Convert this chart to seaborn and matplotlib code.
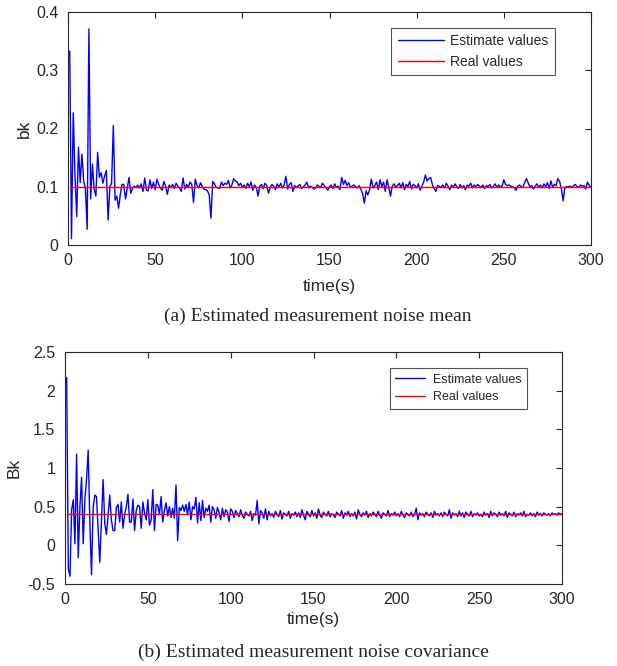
import numpy as np
import pandas as pd
import matplotlib
matplotlib.use("Agg")
import matplotlib.pyplot as plt
import seaborn as sns

# ---- data ----
bk_est = [0.333, 0.011, 0.227, 0.120, 0.049, 0.168, 0.107, 0.156, 0.110, 0.096,
          0.027, 0.371, 0.079, 0.139, 0.096, 0.084, 0.159, 0.116, 0.124, 0.106,
          0.118, 0.128, 0.043, 0.100, 0.106, 0.205, 0.077, 0.084, 0.063, 0.087,
          0.104, 0.104, 0.079, 0.098, 0.116,
          0.089, 0.097, 0.101, 0.099, 0.103, 0.098, 0.105, 0.092, 0.115, 0.094,
          0.093, 0.112, 0.097, 0.108, 0.095, 0.113, 0.104, 0.098, 0.094, 0.109,
          0.101, 0.087, 0.103, 0.099, 0.104, 0.097, 0.106, 0.101, 0.098, 0.092,
          0.115, 0.096, 0.104, 0.099, 0.108,
          0.104, 0.073, 0.113, 0.102, 0.098, 0.107, 0.100, 0.096, 0.095, 0.093,
          0.086, 0.046, 0.109, 0.105, 0.099, 0.098, 0.097, 0.108, 0.102, 0.106,
          0.104, 0.111, 0.098, 0.103, 0.114, 0.110, 0.108, 0.102, 0.106, 0.099,
          0.103, 0.097, 0.106, 0.100, 0.108, 0.094, 0.103, 0.099, 0.084, 0.101,
          0.104, 0.097, 0.106, 0.102, 0.089, 0.099, 0.104, 0.101, 0.095, 0.105,
          0.099, 0.106, 0.098, 0.103, 0.118, 0.096, 0.104, 0.107, 0.092, 0.102,
          0.099, 0.101, 0.104, 0.097, 0.100, 0.103, 0.108, 0.098, 0.101, 0.099,
          0.096, 0.098, 0.103, 0.101, 0.099, 0.106, 0.102, 0.098, 0.094, 0.100,
          0.103, 0.097, 0.105, 0.099, 0.101, 0.095, 0.116, 0.104, 0.111, 0.102,
          0.107, 0.099, 0.101, 0.103, 0.100, 0.098, 0.102, 0.096, 0.088, 0.072,
          0.093, 0.086, 0.095, 0.113, 0.098, 0.102, 0.108, 0.095, 0.112, 0.100,
          0.108, 0.092, 0.112, 0.099, 0.084, 0.101, 0.105, 0.099, 0.102, 0.106,
          0.098, 0.107, 0.095, 0.104, 0.100, 0.109, 0.096, 0.104, 0.102, 0.098,
          0.105, 0.094, 0.101, 0.108, 0.120, 0.110, 0.114, 0.116, 0.104, 0.097,
          0.092, 0.102, 0.101, 0.099, 0.103, 0.098, 0.106, 0.101, 0.095, 0.103,
          0.099, 0.105, 0.100, 0.097, 0.104, 0.098, 0.102, 0.095, 0.103, 0.101,
          0.106, 0.098, 0.103, 0.100, 0.104, 0.101, 0.099, 0.103, 0.097, 0.102,
          0.100, 0.104, 0.098, 0.101, 0.105, 0.099, 0.103, 0.100, 0.101, 0.112,
          0.104, 0.102, 0.103, 0.101, 0.100, 0.098, 0.094, 0.101, 0.103, 0.100,
          0.099, 0.108, 0.114, 0.106, 0.100, 0.102, 0.096, 0.101, 0.105, 0.099,
          0.103, 0.098, 0.105, 0.100, 0.107, 0.097, 0.110, 0.099, 0.104, 0.102,
          0.114, 0.109, 0.097, 0.076, 0.099, 0.100, 0.100, 0.101, 0.099, 0.102,
          0.104, 0.100, 0.099, 0.103, 0.101, 0.102, 0.096, 0.108, 0.102, 0.099]
bk_real = 0.1

Bk_est = [2.17, -0.30, -0.40, 0.46, 0.59, 0.02, 1.18, -0.16, 0.50, 0.88,
          0.02, 0.60, 0.85, 1.23, 0.30, -0.38, 0.49, 0.65, 0.63, 0.20,
          -0.22, 0.33, 0.85, 0.28, 0.14, 0.38, 0.65, 0.33, 0.19, 0.19,
          0.49, 0.53, 0.30, 0.56, 0.22, 0.40, 0.50, 0.66, 0.30, 0.30,
          0.60, 0.19, 0.45, 0.52, 0.50, 0.22, 0.56, 0.42, 0.33, 0.59,
          0.26, 0.33, 0.72, 0.19, 0.53, 0.52, 0.40, 0.63, 0.30, 0.45,
          0.55, 0.38, 0.50, 0.36, 0.48, 0.35,
          0.78, 0.06, 0.49, 0.45, 0.52, 0.44, 0.53, 0.40, 0.56, 0.33,
          0.50, 0.47, 0.62, 0.29, 0.55, 0.32, 0.58, 0.36, 0.48, 0.44,
          0.52, 0.30, 0.50, 0.46, 0.35, 0.49, 0.42, 0.33, 0.48, 0.37,
          0.46, 0.43, 0.31, 0.47,
          0.44, 0.36, 0.45, 0.41, 0.37, 0.46, 0.39, 0.35, 0.43, 0.40,
          0.38, 0.44, 0.32, 0.41, 0.39, 0.58, 0.28, 0.45, 0.42, 0.35,
          0.47, 0.33, 0.44, 0.38, 0.41, 0.36, 0.44, 0.40, 0.37, 0.45,
          0.34, 0.42, 0.40, 0.38, 0.44, 0.35, 0.41, 0.39, 0.43, 0.37,
          0.42, 0.36, 0.46, 0.39, 0.33, 0.44, 0.40, 0.37, 0.45, 0.38,
          0.42, 0.35, 0.47, 0.39, 0.36, 0.43, 0.40, 0.38, 0.44, 0.37,
          0.41, 0.39, 0.36, 0.43, 0.40, 0.38, 0.45, 0.35, 0.42, 0.39,
          0.44, 0.37, 0.41, 0.38, 0.43, 0.34, 0.46, 0.40, 0.37, 0.42,
          0.39, 0.44, 0.36, 0.41, 0.38, 0.43, 0.40, 0.37, 0.44, 0.39,
          0.35, 0.42, 0.40, 0.38, 0.45, 0.37, 0.41, 0.39, 0.43, 0.38,
          0.41, 0.37, 0.44, 0.39, 0.36, 0.42, 0.40, 0.38, 0.43, 0.37,
          0.40, 0.48, 0.33, 0.42, 0.39, 0.41, 0.37, 0.43, 0.40, 0.38,
          0.42, 0.36, 0.44, 0.39, 0.41, 0.38, 0.42, 0.37, 0.43, 0.40,
          0.38, 0.46, 0.35, 0.42, 0.39, 0.41, 0.37, 0.44, 0.38, 0.42,
          0.36, 0.43, 0.40, 0.38, 0.44, 0.37, 0.41, 0.39, 0.42, 0.38,
          0.40, 0.37, 0.43, 0.39, 0.41, 0.36, 0.44, 0.38, 0.42, 0.40,
          0.37, 0.43, 0.39, 0.41, 0.38, 0.44, 0.36, 0.42, 0.40, 0.38,
          0.43, 0.37, 0.41, 0.39, 0.42, 0.38, 0.44, 0.37, 0.40, 0.39,
          0.42, 0.38, 0.41, 0.37, 0.43, 0.39, 0.41, 0.38, 0.42, 0.40,
          0.39, 0.41, 0.38, 0.42, 0.40, 0.41, 0.39, 0.42, 0.40, 0.41]
Bk_real = 0.4

x_ticks = [0, 50, 100, 150, 200, 250, 300]
y_ticks_top = [0, 0.1, 0.2, 0.3, 0.4]
y_ticklabels_top = ["0", "0.1", "0.2", "0.3", "0.4"]
y_ticks_bot = [-0.5, 0, 0.5, 1, 1.5, 2, 2.5]
y_ticklabels_bot = ["-0.5", "0", "0.5", "1", "1.5", "2", "2.5"]
legend_labels = ["Estimate values", "Real values"]
captions = ["(a) Estimated measurement noise mean",
            "(b) Estimated measurement noise covariance"]

sns.set_style("white")
plt.rcParams["font.family"] = ["Liberation Sans", "DejaVu Sans"]

W, H = 617, 666
fig = plt.figure(figsize=(W / 100, H / 100), dpi=100)

def frac(l, t, r, b):
    return [l / W, 1 - b / H, (r - l) / W, (b - t) / H]

ax1 = fig.add_axes(frac(68, 12, 591, 245))
ax2 = fig.add_axes(frac(65, 352, 562, 584))

def draw(ax, est, real, xlabelpad):
    t = np.arange(1, len(est) + 1)
    df = pd.DataFrame({"t": t, "est": est, "real": np.full(len(est), real)})
    sns.lineplot(data=df, x="t", y="est", ax=ax, color="#0000FF", lw=1.0,
                 label=legend_labels[0])
    sns.lineplot(data=df, x="t", y="real", ax=ax, color="#FF0000", lw=1.0,
                 label=legend_labels[1])
    ax.set_xlim(0, 300)
    ax.set_xticks(x_ticks)
    ax.tick_params(direction="in", top=True, right=True, length=4,
                   labelsize=11.5, colors="#262626", width=0.8)
    ax.tick_params(axis="x", pad=6)
    ax.tick_params(axis="y", pad=7)
    for s in ax.spines.values():
        s.set_color("#262626")
        s.set_linewidth(0.8)
    ax.set_xlabel("time(s)", fontsize=12.5, color="#262626", labelpad=xlabelpad)

draw(ax1, bk_est, bk_real, 8)
ax1.set_ylim(0, 0.4)
ax1.set_yticks(y_ticks_top)
ax1.set_yticklabels(y_ticklabels_top)
ax1.set_ylabel("bk", fontsize=12.5, color="#262626", labelpad=3)
leg1 = ax1.legend(loc="upper right",
                  bbox_to_anchor=((555 - 68) / (591 - 68), 1 - (28 - 12) / (245 - 12)),
                  fontsize=10, frameon=True, fancybox=False, edgecolor="#262626",
                  handlelength=3.3, handletextpad=0.5, borderpad=0.45,
                  labelspacing=0.5, borderaxespad=0)
leg1.get_frame().set_linewidth(0.8)

draw(ax2, Bk_est, Bk_real, 3.5)
ax2.set_ylim(-0.5, 2.5)
ax2.set_yticks(y_ticks_bot)
ax2.set_yticklabels(y_ticklabels_bot)
ax2.set_ylabel("Bk", fontsize=12.5, color="#262626", labelpad=4)
leg2 = ax2.legend(loc="upper right",
                  bbox_to_anchor=((527 - 65) / (562 - 65), 1 - (368 - 352) / (584 - 352)),
                  fontsize=9, frameon=True, fancybox=False, edgecolor="#262626",
                  handlelength=2.4, handletextpad=0.6, borderpad=0.45,
                  labelspacing=0.45, borderaxespad=0)
leg2.get_frame().set_linewidth(0.8)

fig.text(318 / W, 1 - 316 / H, captions[0], ha="center", va="center",
         fontsize=14, family="Liberation Serif")
fig.text(313 / W, 1 - 652 / H, captions[1], ha="center", va="center",
         fontsize=14, family="Liberation Serif")

fig.savefig("out.png", dpi=100)
